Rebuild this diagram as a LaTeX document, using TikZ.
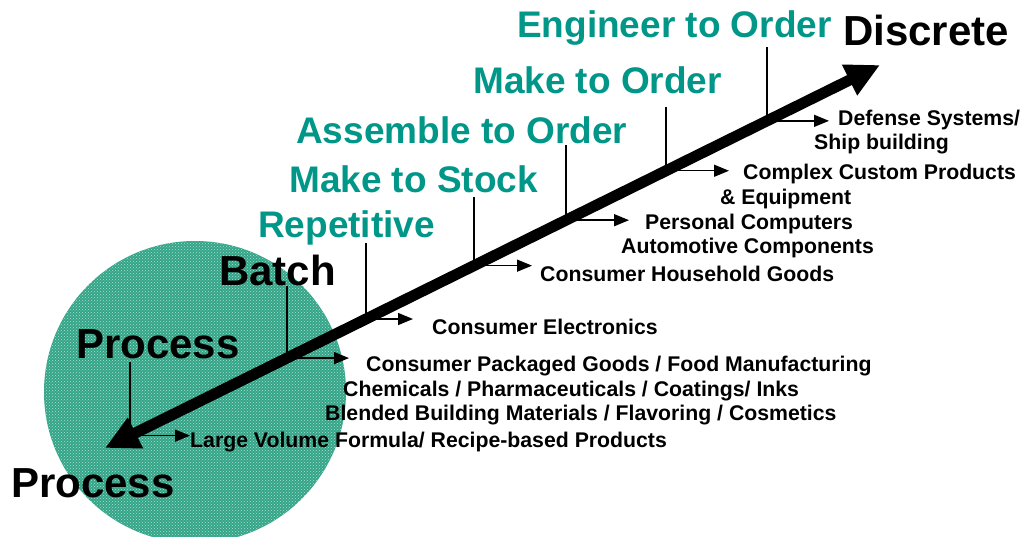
\documentclass[tikz,border=0pt]{standalone}
\usepackage{fontspec}
\setmainfont{Liberation Sans}
\usetikzlibrary{arrows.meta,calc,patterns}
\definecolor{tealtxt}{RGB}{0,150,136}
\definecolor{circfill}{RGB}{52,164,136}
\definecolor{circdot}{RGB}{170,226,208}
\begin{document}
\begin{tikzpicture}[x=1pt,y=-1pt,
  big/.style={font=\fontsize{42}{46}\selectfont\bfseries, text=black, inner sep=0pt, anchor=base west},
  stage/.style={font=\fontsize{37}{40}\selectfont\bfseries, text=tealtxt, inner sep=0pt, anchor=base west},
  item/.style={font=\fontsize{21.25}{24}\selectfont\bfseries, text=black, inner sep=0pt, anchor=base west},
  tick/.style={line width=1.5pt},
  pointer/.style={line width=1.5pt, -{Triangle[length=15pt,width=12pt]}},
  mainarrow/.style={line width=11pt, {Triangle[length=34pt,width=32pt]}-{Triangle[length=34pt,width=32pt]}}
]
\useasboundingbox (0,0) rectangle (1021,536);
\begin{scope}
  \clip (0,0) rectangle (1021,536);
  \fill[circfill] (195,392) circle (151pt);
  \fill[pattern=crosshatch dots, pattern color=circdot] (195,392) circle (151pt);
\end{scope}

% big labels
\node[stage] (eto) at (517,37) {Engineer to Order};
\node[big]   (disc) at (843,45) {Discrete};
\node[stage] (mto) at (473,93) {Make to Order};
\node[stage] (ato) at (296,143) {Assemble to Order};
\node[stage] (mts) at (289,192) {Make to Stock};
\node[stage] (rep) at (258,237) {Repetitive};
\node[big]   (batch) at (219,285) {Batch};
\node[big]   (proc1) at (76,358) {Process};
\node[big]   (proc2) at (11,497) {Process};

% item labels
\node[item] (i1) at (190,447) {Large Volume Formula/ Recipe-based Products};
\node[item] (i2) at (366,371) {Consumer Packaged Goods / Food Manufacturing};
\node[item] (i3) at (343,396) {Chemicals / Pharmaceuticals / Coatings/ Inks};
\node[item] (i4) at (325,420) {Blended Building Materials / Flavoring / Cosmetics};
\node[item] (i5) at (432,334) {Consumer Electronics};
\node[item] (i6) at (540,281) {Consumer Household Goods};
\node[item] (i7) at (645,229) {Personal Computers};
\node[item] (i8) at (621,253) {Automotive Components};
\node[item] (i9) at (743,179) {Complex Custom Products};
\node[item] (i10) at (720,204) {\& Equipment};
\node[item] (i11) at (838,125) {Defense Systems/};
\node[item] (i12) at (814,149) {Ship building};

% main axis
\coordinate (L) at (105,448);
\coordinate (R) at (880,65);
\coordinate (sP) at ($(L)!0.0323!(R)$);
\coordinate (sB) at ($(L)!0.2348!(R)$);
\coordinate (sR) at ($(L)!0.3368!(R)$);
\coordinate (sS) at ($(L)!0.4761!(R)$);
\coordinate (sA) at ($(L)!0.5948!(R)$);
\coordinate (sM) at ($(L)!0.7239!(R)$);
\coordinate (sE) at ($(L)!0.8542!(R)$);
% tops of the ticks
\coordinate (tP) at (130,362);
\coordinate (tB) at (287,286);
\coordinate (tR) at (366,243);
\coordinate (tS) at (474,197);
\coordinate (tA) at (566,145);
\coordinate (tM) at (666,107);
\coordinate (tE) at (767,47);
% arrow ends
\coordinate (aP) at (190,0);
\coordinate (aB) at (349,0);
\coordinate (aR) at (413,0);
\coordinate (aS) at (532,0);
\coordinate (aA) at (629,0);
\coordinate (aM) at (729,0);
\coordinate (aE) at (829,0);

\foreach \k in {P,B,R,S,A,M,E}{
  \draw[tick] (t\k) -- (t\k |- s\k);
  \draw[pointer] (t\k |- s\k) -- (a\k |- s\k);
}

\draw[mainarrow] (L) -- (R);
\end{tikzpicture}
\end{document}
